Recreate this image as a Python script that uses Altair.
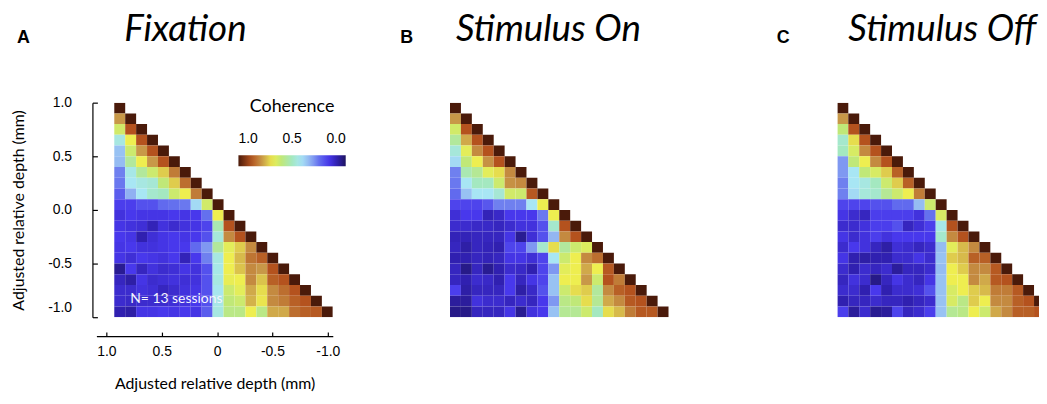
import altair as alt
import pandas as pd

PANEL_TITLES = ["Fixation", "Stimulus On", "Stimulus Off"]
PANEL_LETTERS = ["A", "B", "C"]
N_ROWS = 20
Y_TICKS = [0, 5, 10, 15, 20]
Y_TICK_LABELS = ["1.0", "0.5", "0.0", "-0.5", "-1.0"]
X_TICKS = [1.0, 0.5, 0.0, -0.5, -1.0]
X_TICK_LABELS = ["1.0", "0.5", "0", "-0.5", "-1.0"]
LEGEND_TICKS = [1.0, 0.5, 0.0]
COLOR_STOPS = [1.0, 0.88, 0.78, 0.68, 0.6, 0.5, 0.42, 0.33, 0.25, 0.16, 0.08, 0.0]
COLOR_HEX = ["#4a1a0a", "#b4521e", "#c89848", "#eeee50", "#c0e878", "#a4e8c0",
             "#a8e6f4", "#90b0f2", "#6470ee", "#4838ec", "#3020b0", "#1e1460"]
NOTE = ["N= 13 sessions"]
AXIS_TITLE = "Adjusted relative depth (mm)"

FIX = [
    [1.0],
    [0.78, 1.0],
    [0.63, 0.88, 1.0],
    [0.45, 0.68, 0.88, 1.0],
    [0.36, 0.62, 0.78, 0.88, 1.0],
    [0.35, 0.55, 0.68, 0.78, 0.88, 1.0],
    [0.27, 0.44, 0.55, 0.62, 0.72, 0.82, 1.0],
    [0.26, 0.42, 0.45, 0.47, 0.6, 0.72, 0.84, 1.0],
    [0.22, 0.33, 0.42, 0.48, 0.5, 0.62, 0.68, 0.82, 1.0],
    [0.17, 0.17, 0.2, 0.2, 0.24, 0.25, 0.26, 0.4, 0.63, 1.0],
    [0.14, 0.16, 0.15, 0.15, 0.15, 0.16, 0.15, 0.16, 0.25, 0.68, 1.0],
    [0.15, 0.14, 0.13, 0.09, 0.14, 0.12, 0.14, 0.15, 0.18, 0.52, 0.88, 1.0],
    [0.16, 0.15, 0.08, 0.13, 0.15, 0.16, 0.15, 0.16, 0.2, 0.46, 0.8, 0.88, 1.0],
    [0.15, 0.16, 0.14, 0.14, 0.15, 0.16, 0.16, 0.24, 0.3, 0.55, 0.66, 0.72, 0.8, 1.0],
    [0.15, 0.13, 0.16, 0.15, 0.14, 0.16, 0.09, 0.16, 0.27, 0.45, 0.68, 0.74, 0.83, 0.86, 1.0],
    [0.05, 0.16, 0.1, 0.14, 0.12, 0.13, 0.15, 0.14, 0.2, 0.44, 0.68, 0.73, 0.8, 0.78, 0.88, 1.0],
    [0.1, 0.07, 0.15, 0.12, 0.13, 0.14, 0.13, 0.14, 0.2, 0.45, 0.67, 0.68, 0.8, 0.73, 0.86, 0.88, 1.0],
    [0.12, 0.12, 0.14, 0.13, 0.1, 0.12, 0.14, 0.15, 0.2, 0.43, 0.62, 0.66, 0.76, 0.7, 0.8, 0.84, 0.88, 1.0],
    [0.12, 0.11, 0.12, 0.12, 0.12, 0.13, 0.14, 0.16, 0.2, 0.44, 0.6, 0.62, 0.75, 0.69, 0.8, 0.82, 0.86, 0.88, 1.0],
    [0.08, 0.07, 0.15, 0.15, 0.16, 0.15, 0.16, 0.15, 0.22, 0.45, 0.58, 0.58, 0.68, 0.58, 0.76, 0.76, 0.84, 0.86, 0.87, 1.0],
]

ON = [
    [1.0],
    [0.78, 1.0],
    [0.63, 0.88, 1.0],
    [0.55, 0.76, 0.88, 1.0],
    [0.46, 0.66, 0.8, 0.88, 1.0],
    [0.4, 0.6, 0.68, 0.79, 0.88, 1.0],
    [0.27, 0.52, 0.56, 0.66, 0.7, 0.8, 1.0],
    [0.26, 0.42, 0.5, 0.5, 0.62, 0.79, 0.8, 1.0],
    [0.24, 0.36, 0.42, 0.42, 0.47, 0.63, 0.62, 0.87, 1.0],
    [0.18, 0.18, 0.18, 0.21, 0.27, 0.27, 0.27, 0.42, 0.68, 1.0],
    [0.13, 0.16, 0.16, 0.09, 0.11, 0.16, 0.16, 0.16, 0.26, 0.68, 1.0],
    [0.12, 0.12, 0.11, 0.11, 0.1, 0.12, 0.14, 0.14, 0.2, 0.48, 0.88, 1.0],
    [0.09, 0.09, 0.1, 0.1, 0.1, 0.15, 0.05, 0.13, 0.2, 0.34, 0.8, 0.88, 1.0],
    [0.1, 0.07, 0.1, 0.09, 0.08, 0.18, 0.18, 0.3, 0.48, 0.7, 0.55, 0.62, 0.65, 1.0],
    [0.08, 0.08, 0.1, 0.09, 0.1, 0.15, 0.15, 0.13, 0.18, 0.42, 0.62, 0.68, 0.8, 0.84, 1.0],
    [0.1, 0.04, 0.1, 0.05, 0.08, 0.12, 0.11, 0.08, 0.18, 0.3, 0.66, 0.68, 0.76, 0.68, 0.87, 1.0],
    [0.1, 0.08, 0.12, 0.11, 0.08, 0.16, 0.1, 0.15, 0.18, 0.36, 0.68, 0.68, 0.78, 0.62, 0.88, 0.82, 1.0],
    [0.17, 0.07, 0.1, 0.1, 0.1, 0.16, 0.07, 0.11, 0.2, 0.36, 0.62, 0.7, 0.72, 0.55, 0.8, 0.86, 0.88, 1.0],
    [0.06, 0.06, 0.14, 0.12, 0.12, 0.1, 0.12, 0.1, 0.16, 0.3, 0.58, 0.6, 0.7, 0.56, 0.76, 0.8, 0.87, 0.88, 1.0],
    [0.04, 0.04, 0.1, 0.1, 0.1, 0.15, 0.05, 0.14, 0.16, 0.36, 0.56, 0.56, 0.62, 0.5, 0.7, 0.74, 0.82, 0.87, 0.87, 1.0],
]

OFF = [
    [1.0],
    [0.78, 1.0],
    [0.6, 0.88, 1.0],
    [0.48, 0.7, 0.88, 1.0],
    [0.5, 0.64, 0.8, 0.88, 1.0],
    [0.3, 0.6, 0.68, 0.8, 0.88, 1.0],
    [0.3, 0.42, 0.6, 0.64, 0.72, 0.86, 1.0],
    [0.27, 0.42, 0.45, 0.5, 0.62, 0.72, 0.86, 1.0],
    [0.27, 0.4, 0.46, 0.48, 0.56, 0.62, 0.68, 0.82, 1.0],
    [0.18, 0.18, 0.18, 0.2, 0.2, 0.24, 0.24, 0.35, 0.62, 1.0],
    [0.15, 0.12, 0.1, 0.17, 0.17, 0.17, 0.17, 0.14, 0.25, 0.64, 1.0],
    [0.12, 0.12, 0.14, 0.17, 0.17, 0.2, 0.1, 0.13, 0.17, 0.44, 0.88, 1.0],
    [0.15, 0.12, 0.14, 0.17, 0.14, 0.16, 0.16, 0.16, 0.16, 0.48, 0.8, 0.88, 1.0],
    [0.12, 0.16, 0.14, 0.1, 0.07, 0.13, 0.12, 0.1, 0.12, 0.35, 0.66, 0.74, 0.8, 1.0],
    [0.15, 0.08, 0.07, 0.08, 0.08, 0.12, 0.12, 0.15, 0.12, 0.36, 0.72, 0.74, 0.86, 0.86, 1.0],
    [0.12, 0.08, 0.12, 0.1, 0.12, 0.06, 0.1, 0.1, 0.12, 0.35, 0.68, 0.72, 0.8, 0.8, 0.87, 1.0],
    [0.1, 0.14, 0.12, 0.04, 0.1, 0.15, 0.12, 0.1, 0.15, 0.36, 0.68, 0.68, 0.8, 0.76, 0.87, 0.88, 1.0],
    [0.12, 0.12, 0.08, 0.16, 0.08, 0.12, 0.12, 0.13, 0.2, 0.36, 0.64, 0.68, 0.72, 0.74, 0.82, 0.82, 0.87, 1.0],
    [0.08, 0.1, 0.1, 0.12, 0.1, 0.1, 0.08, 0.1, 0.12, 0.36, 0.64, 0.58, 0.72, 0.68, 0.8, 0.8, 0.86, 0.88, 1.0],
    [0.17, 0.06, 0.12, 0.05, 0.06, 0.18, 0.1, 0.12, 0.17, 0.36, 0.56, 0.58, 0.68, 0.62, 0.76, 0.8, 0.86, 0.86, 0.88, 1.0],
]

PLOT_H = 216


def cells(rows):
    return pd.DataFrame([{"row": r, "col": c, "coh": v}
                         for r, row in enumerate(rows) for c, v in enumerate(row)])


def label_expr(values, labels):
    expr = "''"
    for v, l in reversed(list(zip(values, labels))):
        expr = f"datum.value == {v} ? '{l}' : ({expr})"
    return expr


legend = alt.Legend(
    orient="none", legendX=143, legendY=-5, direction="horizontal",
    gradientLength=108, gradientThickness=11, values=LEGEND_TICKS, format=".1f",
    title="Coherence", titleFont="Lato", titleFontSize=18, titleFontWeight="normal",
    titleAnchor="middle", titlePadding=40, titleColor="black",
    labelFont="Liberation Sans", labelFontSize=14, labelOffset=alt.ExprRef("-34"),
    labelColor="black", gradientStrokeWidth=0,
)

color = alt.Color("coh:Q",
                  scale=alt.Scale(domain=COLOR_STOPS, range=COLOR_HEX, interpolate="rgb"),
                  legend=legend)


def heat(rows, x_domain, yaxis=None):
    return alt.Chart(cells(rows)).transform_calculate(
        row2="datum.row + 1", col2="datum.col + 1"
    ).mark_rect(clip=True).encode(
        x=alt.X("col:Q", scale=alt.Scale(domain=x_domain, nice=False, zero=False), axis=None),
        x2="col2:Q",
        y=alt.Y("row:Q", scale=alt.Scale(domain=[0, N_ROWS], reverse=True, nice=False, zero=False),
                axis=yaxis),
        y2="row2:Q",
        color=color,
    )


def letter(i, dx):
    return alt.Chart(pd.DataFrame({"lab": [PANEL_LETTERS[i]]})).mark_text(
        font="Liberation Sans", fontWeight="bold", fontSize=18, align="left",
        baseline="alphabetic", color="black"
    ).encode(text="lab:N", x=alt.value(dx), y=alt.value(-60))


def title(i, dx):
    return alt.Chart(pd.DataFrame({"t": [PANEL_TITLES[i]]})).mark_text(
        font="Lato", fontSize=37, fontStyle="italic", align="left",
        baseline="alphabetic", color="black"
    ).encode(text="t:N", x=alt.value(dx), y=alt.value(-62))


yaxis = alt.Axis(
    values=Y_TICKS, labelExpr=label_expr(Y_TICKS, Y_TICK_LABELS), title=AXIS_TITLE,
    offset=4, grid=False, tickSize=alt.ExprRef("-5"), labelPadding=26, labelFlush=False,
    labelOffset={"condition": {"test": "datum.value == 20", "value": -10}, "value": 0},
    labelFont="Liberation Sans", labelFontSize=14, titleFont="Lato", titleFontSize=16,
    titleFontWeight="normal", titlePadding=21,
)

depth = alt.Chart(pd.DataFrame({"depth": X_TICKS})).mark_point(opacity=0).encode(
    x=alt.X("depth:Q", scale=alt.Scale(domain=[1.09, -1.045], nice=False, zero=False),
            axis=alt.Axis(values=X_TICKS, labelExpr=label_expr(X_TICKS, X_TICK_LABELS),
                          orient="bottom", offset=19, grid=False, tickSize=alt.ExprRef("-4"),
                          labelPadding=13, labelFlush=False, title=AXIS_TITLE,
                          labelFont="Liberation Sans", labelFontSize=14, titleFont="Lato",
                          titleFontSize=16, titleFontWeight="normal", titlePadding=17))
)

note = alt.Chart(pd.DataFrame({"t": NOTE})).mark_text(
    font="Lato", fontSize=14, align="left", baseline="alphabetic", color="#f4f4ff"
).encode(text="t:N", x=alt.value(34), y=alt.value(202))

panel_a = alt.layer(heat(FIX, [-18 / 11, 20], yaxis), depth, note, letter(0, -80),
                    title(0, 28)).resolve_scale(x="independent").properties(width=238, height=PLOT_H)

panel_b = alt.layer(heat(ON, [0, 272 / 11]), letter(1, -50), title(1, 6)).properties(
    width=272, height=PLOT_H)

panel_c = alt.layer(heat(OFF, [0, 203 / 11]), letter(2, -61), title(2, 11)).properties(
    width=203, height=PLOT_H)

chart = alt.hconcat(panel_a, panel_b, panel_c, spacing=118, bounds="flush").configure_view(
    stroke=None
).configure_axis(
    domainColor="black", domainWidth=1.2, tickColor="black", tickWidth=1.2,
    labelColor="black", titleColor="black",
).properties(padding={"left": 2, "top": 2, "right": 0, "bottom": 0})

chart.save("out.html", embed_options={"renderer": "svg", "actions": False})
